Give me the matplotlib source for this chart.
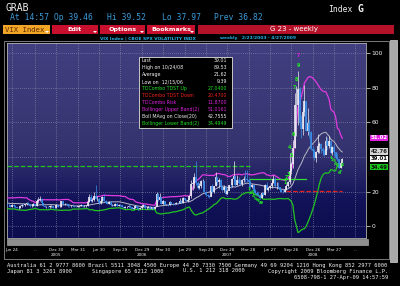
import matplotlib
matplotlib.use("Agg")
import matplotlib.pyplot as plt
import matplotlib.dates as mdates
from matplotlib.patches import Rectangle, Polygon
from matplotlib.colors import LinearSegmentedColormap
import numpy as np
import pandas as pd

# weekly VIX bars, Fridays from 2005-06-03 to 2009-05-01 (last week = current)
closes_2005 = [12.4, 12.0, 11.0, 12.2, 11.4, 10.9, 10.3, 10.5, 11.6, 12.2, 12.0, 12.6, 13.4, 12.6, 11.5, 11.7,
               12.7, 11.9, 14.7, 15.0, 15.9, 13.4, 11.6, 11.0, 11.3, 10.9, 11.4, 11.6, 10.5, 10.4, 12.1]
highs_2005 = [13.5, 12.9, 12.3, 12.8, 12.6, 12.3, 11.2, 11.1, 12.0, 12.6, 12.8, 13.0, 14.2, 13.8, 12.7, 12.3,
              13.6, 12.9, 15.6, 16.8, 17.2, 16.4, 13.3, 12.0, 11.8, 11.5, 12.0, 12.2, 11.9, 10.8, 12.6]
lows_2005 = [11.6, 11.5, 10.8, 10.9, 11.0, 10.6, 10.2, 10.0, 10.5, 11.3, 11.6, 11.8, 12.4, 12.3, 11.3, 11.1,
             11.6, 11.7, 11.8, 13.6, 14.5, 13.0, 11.5, 10.8, 10.7, 10.3, 10.6, 11.0, 10.3, 10.0, 10.2]

closes_2006 = [11.1, 11.2, 14.3, 12.5, 13.0, 12.9, 11.5, 11.4, 11.9, 11.6, 11.2, 11.0, 11.4, 11.8, 12.0, 11.6,
               11.6, 11.6, 14.2, 16.9, 14.3, 15.0, 17.5, 15.8, 15.9, 13.1, 14.4, 16.6, 14.8, 13.3, 13.0, 14.0,
               12.0, 12.2, 11.9, 12.7, 11.7, 12.3, 12.0, 11.3, 10.7, 11.0, 11.1, 11.9, 10.8, 10.0, 10.3, 11.7,
               10.5, 10.0, 10.4, 11.6]
highs_2006 = [12.3, 11.9, 14.6, 14.8, 13.4, 13.6, 13.0, 11.9, 12.2, 13.0, 11.8, 11.4, 11.7, 12.2, 12.7, 12.3,
              12.0, 12.2, 14.5, 18.4, 18.5, 16.4, 19.7, 23.8, 17.4, 16.0, 15.2, 17.4, 18.3, 15.3, 14.2, 14.7,
              14.5, 12.9, 12.6, 13.2, 13.1, 12.8, 12.7, 12.3, 11.6, 11.4, 11.6, 12.3, 12.1, 11.2, 10.7, 12.0,
              11.9, 10.9, 11.0, 11.8]
lows_2006 = [10.8, 10.9, 11.3, 12.1, 12.2, 12.5, 11.3, 11.1, 11.2, 11.4, 11.0, 10.8, 10.9, 11.0, 11.5, 11.3,
             11.3, 11.2, 11.5, 14.1, 14.0, 13.8, 14.6, 15.7, 14.6, 12.9, 12.8, 14.0, 14.5, 13.1, 12.6, 12.5,
             11.9, 11.8, 11.5, 11.8, 11.5, 11.6, 11.6, 11.0, 10.6, 10.5, 10.6, 10.9, 10.6, 9.9, 9.8, 10.2,
             10.4, 9.39, 9.9, 10.1]

closes_2007 = [12.0, 10.2, 10.4, 11.1, 10.1, 11.1, 10.0, 11.2, 18.6, 14.9, 16.8, 12.7, 14.6, 12.2, 12.4, 12.1,
               14.2, 13.0, 12.9, 12.7, 13.5, 13.1, 14.8, 13.2, 16.4, 15.0, 14.8, 15.2, 17.6, 24.2, 25.2, 28.3,
               25.2, 21.8, 23.4, 26.2, 26.2, 20.0, 18.0, 17.5, 17.0, 23.0, 19.9, 23.0, 28.5, 25.5, 26.8, 22.9,
               20.9, 22.6, 18.5, 20.3]
highs_2007 = [12.8, 12.4, 11.0, 11.4, 11.5, 11.3, 11.2, 11.6, 19.9, 19.0, 18.9, 16.7, 15.2, 14.8, 13.0, 12.9,
              14.3, 14.2, 13.6, 13.2, 13.9, 13.8, 16.4, 14.9, 16.6, 16.5, 15.8, 16.0, 17.8, 26.5, 28.0, 30.8,
              37.5, 26.2, 25.0, 26.6, 27.1, 26.3, 20.5, 18.4, 18.0, 23.2, 24.4, 23.4, 31.1, 28.0, 28.0, 27.0,
              23.3, 24.0, 22.8, 21.4]
lows_2007 = [11.0, 10.1, 9.9, 10.2, 10.0, 10.0, 9.9, 9.8, 11.5, 14.6, 14.6, 12.6, 12.6, 12.1, 12.0, 11.8,
             12.0, 12.8, 12.4, 12.4, 12.8, 12.9, 13.1, 13.1, 13.6, 14.9, 14.6, 14.2, 15.1, 16.5, 21.0, 22.0,
             23.8, 21.5, 21.6, 22.3, 25.0, 19.9, 17.5, 16.8, 16.0, 17.2, 19.3, 19.2, 23.0, 24.0, 22.0, 22.0,
             20.3, 19.9, 18.2, 18.6]

closes_2008 = [23.9, 23.7, 27.2, 29.0, 24.0, 26.4, 25.0, 24.1, 26.5, 27.5, 27.0, 26.6, 25.7, 22.5, 23.8, 20.2,
               18.9, 18.2, 18.1, 16.5, 19.1, 17.8, 23.6, 21.0, 22.2, 23.4, 24.8, 27.5, 23.4, 23.4, 22.6, 20.7,
               20.0, 19.8, 20.7, 23.1, 25.7, 32.1, 35.7, 45.1, 70.0, 70.3, 79.1, 59.9, 56.1, 66.3, 72.7, 55.3,
               59.9, 54.3, 44.9, 43.4]
highs_2008 = [24.0, 25.2, 27.9, 37.6, 28.6, 29.7, 28.4, 27.5, 27.0, 29.1, 32.2, 32.2, 27.6, 26.7, 24.5, 24.0,
              21.2, 20.2, 19.9, 18.6, 20.0, 19.6, 24.4, 25.3, 22.8, 24.0, 26.7, 29.3, 28.5, 25.5, 25.6, 22.9,
              21.4, 21.4, 21.5, 24.6, 26.3, 42.2, 37.3, 49.6, 76.9, 81.2, 89.53, 80.3, 64.1, 69.1, 81.5, 71.6,
              68.6, 62.0, 55.0, 46.5]
lows_2008 = [21.0, 22.0, 22.8, 26.0, 23.3, 24.0, 24.4, 23.5, 23.4, 25.4, 25.7, 25.8, 24.3, 22.1, 22.2, 20.0,
             18.3, 17.8, 17.2, 15.8, 16.1, 17.4, 17.8, 20.9, 20.5, 21.5, 22.0, 24.7, 22.8, 21.5, 21.9, 20.6,
             19.6, 19.2, 19.7, 20.7, 22.4, 24.6, 30.2, 33.6, 45.2, 52.1, 58.3, 58.4, 50.8, 53.0, 63.9, 55.0,
             52.7, 50.9, 44.2, 40.0]

closes_2009 = [39.2, 42.8, 46.1, 47.3, 44.8, 43.4, 41.3, 49.3, 46.4, 49.3, 42.4, 45.9, 42.8, 39.7, 38.9, 33.9,
               36.8, 39.01]
highs_2009 = [44.4, 43.6, 53.6, 48.9, 48.0, 45.9, 44.9, 52.4, 51.6, 51.95, 49.2, 46.4, 47.5, 42.7, 42.5, 39.0,
              37.9, 39.52]
lows_2009 = [38.1, 37.1, 42.2, 42.6, 42.3, 40.9, 40.6, 42.0, 43.9, 45.0, 42.0, 41.2, 40.6, 38.6, 37.8, 33.4,
             33.7, 37.97]

# closes of the 19 weeks before the window (only feed the 20-week bands)
warmup_closes = [14.3, 13.2, 11.6, 11.4, 11.9, 12.1, 11.3, 12.3, 13.0, 14.0, 13.6, 12.3, 17.1, 15.4, 15.3,
                 14.0, 15.6, 12.8, 12.9]

closes = closes_2005 + closes_2006 + closes_2007 + closes_2008 + closes_2009
highs = highs_2005 + highs_2006 + highs_2007 + highs_2008 + highs_2009
lows = lows_2005 + lows_2006 + lows_2007 + lows_2008 + lows_2009

# TD lines: level, start, end, colour, style
tdst_levels = [34.6, 27.04, 20.47]
tdst_start = ["2005-06-01", "2008-04-04", "2008-09-05"]
tdst_end = ["2008-04-04", "2008-11-28", "2009-05-01"]
tdst_colors = ["#1fc41f", "#33dd33", "#e02020"]
tdst_styles = ["--", "-", "--"]

# TD setup counts
sell_setup_dates = ["2008-08-29", "2008-09-05", "2008-09-12", "2008-09-19", "2008-09-26",
                    "2008-10-03", "2008-10-10", "2008-10-17", "2008-10-24"]
buy_setup_dates_08 = ["2008-03-28", "2008-04-04", "2008-04-11", "2008-04-18", "2008-04-25",
                      "2008-05-02", "2008-05-09", "2008-05-16", "2008-05-23"]
buy_setup_dates_09 = ["2009-03-13", "2009-03-20", "2009-03-27", "2009-04-03", "2009-04-10",
                      "2009-04-17", "2009-04-24", "2009-05-01"]

tick_dates = ["2005-06-24", "2005-09-30", "2005-12-30", "2006-03-31", "2006-06-30", "2006-09-29",
              "2006-12-29", "2007-03-30", "2007-06-29", "2007-09-28", "2007-12-28", "2008-03-28",
              "2008-06-27", "2008-09-26", "2008-12-26", "2009-03-27", "2009-06-26"]
tick_labels = ["Jun 24", "...", "Dec 30\n2005", "Mar 31", "Jun 30", "Sep 29", "Dec 29\n2006", "Mar 30",
               "Jun 29", "Sep 28", "Dec 28\n2007", "Mar 28", "Jun 27", "Sep 26", "Dec 26\n2008", "Mar 27", "..."]

legend_rows = [("Last", "39.01"), ("High on 10/24/08", "89.53"), ("Average", "21.62"),
               ("Low on  12/15/06", "9.39"), ("TDCombo TDST Up", "27.0400"),
               ("TDCombo TDST Down", "20.4700"), ("TDCombo Risk", "11.8700"),
               ("Bollinger Upper Band(2)", "51.0161"), ("Boll MAvg on Close(20)", "42.7555"),
               ("Bollinger Lower Band(2)", "34.4949")]
legend_colors = ["#f0f0f0", "#f0f0f0", "#f0f0f0", "#f0f0f0", "#22dd22", "#ee2020", "#dd22dd",
                 "#dd22dd", "#e8e8e8", "#22dd22"]

W, H = 400, 286
fig = plt.figure(figsize=(W / 100, H / 100), dpi=100, facecolor="black")


def box(x0, y0, x1, y1, **kw):
    fig.add_artist(Rectangle((x0 / W, 1 - y1 / H), (x1 - x0) / W, (y1 - y0) / H,
                             transform=fig.transFigure, **kw))


def label(x, y, s, **kw):
    kw.setdefault("va", "center")
    fig.text(x / W, 1 - y / H, s, **kw)


def tri(x, y):
    pts = [((x - 2) / W, 1 - y / H), ((x + 2) / W, 1 - y / H), (x / W, 1 - (y + 2) / H)]
    fig.add_artist(Polygon(pts, closed=True, transform=fig.transFigure, fc="white", ec="none"))


mono = "DejaVu Sans Mono"

# ---- header
label(5, 8, "GRAB", family=mono, fontsize=7, color="#f0f0f0")
hdr_blue = "#3a9ad8"
label(10, 17.5, "At 14:57 Op 39.46", family=mono, fontsize=5.8, color=hdr_blue)
label(107, 17.5, "Hi 39.52", family=mono, fontsize=5.8, color=hdr_blue)
label(162, 17.5, "Lo 37.97", family=mono, fontsize=5.8, color=hdr_blue)
label(214, 17.5, "Prev 36.82", family=mono, fontsize=5.8, color=hdr_blue)
label(328, 9, "Index", family=mono, fontsize=5.8, color="#f0f0f0")
label(357, 9, "G", family=mono, fontsize=7, color="#f0f0f0", weight="bold")

box(3, 25, 50, 34, fc="#f2a526", ec="none")
label(5, 29.5, "VIX Index", family=mono, fontsize=5.2, color="#5a2a00")
tri(47, 31)
red = "#c8102e"
for bx0, bx1, name in [(52, 98, "Edit"), (100, 145, "Options"), (147, 195, "Bookmarks")]:
    box(bx0, 25, bx1, 34, fc=red, ec="none")
    label((bx0 + bx1) / 2, 29.3, name, ha="center", fontsize=4.6, color="white", weight="bold")
    tri(bx1 - 3, 31)
box(198, 25, 394, 34, fc="#b5122a", ec="none")
label(294, 29.3, "G 23 - weekly", ha="center", fontsize=5, color="white")

label(100, 38, "VIX Index | CBOE SPX VOLATILITY INDX", fontsize=3.2, color="#22b4e6", weight="bold")
label(220, 38, "weekly   2/23/2003 - 4/27/2009", fontsize=3.2, color="#22b4e6", weight="bold")

# ---- frame pieces
box(4, 40.5, 389, 259, fill=False, ec="#8c8c8c", lw=0.6)
box(7, 239, 368, 245, fc="#8e8e8e", ec="#b8b8b8", lw=0.4)
box(389.5, 40, 397, 262, fc="#a9a9a9", ec="#d8d8d8", lw=0.5)

# ---- chart
ax = fig.add_axes([7 / W, 1 - 238 / H, 359 / W, 195 / H])
weeks = pd.date_range("2005-06-03", periods=len(closes), freq="W-FRI")
x = mdates.date2num(weeks)
x0, x1 = mdates.date2num(pd.Timestamp("2005-06-03")), mdates.date2num(pd.Timestamp("2009-08-10"))
ymin, ymax = -6.9, 106
ax.set_xlim(x0, x1)
ax.set_ylim(ymin, ymax)

bg = LinearSegmentedColormap.from_list(
    "bb", [(0, "#413f7f"), (0.55, "#35336f"), (0.72, "#1e1e62"), (0.8, "#121358"), (1, "#0c0d4e")])
ax.imshow(np.linspace(0, 1, 256).reshape(-1, 1), cmap=bg, aspect="auto",
          extent=[x0, x1, ymin, ymax], zorder=0)

grid_kw = dict(color="#9a9ab8", lw=0.5, ls=(0, (1, 2)), zorder=1)
for v in [0, 20, 40, 60, 80, 100]:
    ax.axhline(v, **grid_kw)
tx = mdates.date2num(pd.to_datetime(tick_dates))
for t in tx:
    ax.axvline(t, **grid_kw)

# bands (20 weeks, 2 sd)
s = pd.Series(warmup_closes + closes)
mid = s.rolling(20).mean().to_numpy()[len(warmup_closes):]
sd = s.rolling(20).std(ddof=0).to_numpy()[len(warmup_closes):]
ax.plot(x, mid + 2 * sd, color="#e03ae0", lw=0.9, zorder=3)
ax.plot(x, mid, color="#b8b8c8", lw=0.7, zorder=3)
ax.plot(x, mid - 2 * sd, color="#22c422", lw=0.9, zorder=3)

# TDST levels
for lev, a, b, c, st in zip(tdst_levels, tdst_start, tdst_end, tdst_colors, tdst_styles):
    ax.plot(mdates.date2num(pd.to_datetime([a, b])), [lev, lev], color=c, ls=st, lw=0.9, zorder=3)

# bars
c = np.array(closes)
prev = np.array([warmup_closes[-1]] + closes[:-1])
cols = np.where(c >= prev, "#ececf4", "#3a8ee8")
ax.vlines(x, lows, highs, colors=cols, lw=0.5, zorder=4)
ax.vlines(x, np.minimum(prev, c), np.maximum(prev, c), colors=cols, lw=1.2, zorder=4)

# TD setup digits
date_idx = {d.strftime("%Y-%m-%d"): i for i, d in enumerate(weeks)}
for k, d in enumerate(sell_setup_dates):
    i = date_idx[d]
    ax.text(x[i], highs[i] + 2, str(k + 1), color="#22ee22", fontsize=3.4, weight="bold",
            ha="center", va="bottom", zorder=5)
i = date_idx["2008-10-24"]
ax.text(x[i], highs[i] + 7.5, "7", color="#e020e0", fontsize=3.4, weight="bold", ha="center",
        va="bottom", zorder=5)
for dates in (buy_setup_dates_08, buy_setup_dates_09):
    for k, d in enumerate(dates):
        i = date_idx[d]
        ax.text(x[i], lows[i] - 1.5, str(k + 1), color="#22ee22", fontsize=3.2, weight="bold",
                ha="center", va="top", zorder=5)

# axes cosmetics
for sp in ax.spines.values():
    sp.set_color("#b0b0b0")
    sp.set_linewidth(0.6)
ax.yaxis.tick_right()
ax.set_yticks([0, 20, 60, 80, 100])
ax.tick_params(axis="y", colors="#f0f0f0", labelsize=4.3, length=3, width=0.5, pad=1)
ax.set_xticks(tx)
ax.set_xticklabels(tick_labels)
ax.tick_params(axis="x", colors="#f0f0f0", labelsize=3.0, length=0, pad=7.5)

# last-value boxes on the right axis
tr = ax.get_yaxis_transform()
for val, txt, fc, tc in [(51.02, "51.02", "#e020e0", "white"), (43.2, "42.76", "#d4d4d4", "#202020"),
                         (38.9, "39.01", "#ffffff", "#101010"), (34.2, "34.49", "#18c818", "#101010")]:
    ax.text(1.012, val, txt, transform=tr, fontsize=3.9, color=tc, va="center", ha="left",
            weight="bold", bbox=dict(boxstyle="square,pad=0.1", fc=fc, ec="none"), clip_on=False, zorder=6)

# ---- legend box
box(139, 57, 232, 128, fc="black", ec="#c8c8c8", lw=0.7)
for k, ((name, val), col) in enumerate(zip(legend_rows, legend_colors)):
    yy = 61 + k * 6.9
    label(141.5, yy, name, fontsize=3.4, color=col)
    label(227, yy, val, fontsize=3.4, color=col, ha="right")

# ---- footer
foot = dict(family=mono, fontsize=3.9, color="#f4f4f4")
label(7, 265, "Australia 61 2 9777 8600 Brazil 5511 3048 4500 Europe 44 20 7330 7500 "
              "Germany 49 69 9204 1210 Hong Kong 852 2977 6000", **foot)
label(7, 271, "Japan 81 3 3201 8900", **foot)
label(92, 271, "Singapore 65 6212 1000", **foot)
label(183, 271, "U.S. 1 212 318 2000", **foot)
label(388, 271, "Copyright 2009 Bloomberg Finance L.P.", ha="right", **foot)
label(388, 277, "6508-798-1 27-Apr-09 14:57:59", ha="right", **foot)

fig.savefig("out.png", dpi=100, facecolor="black")
